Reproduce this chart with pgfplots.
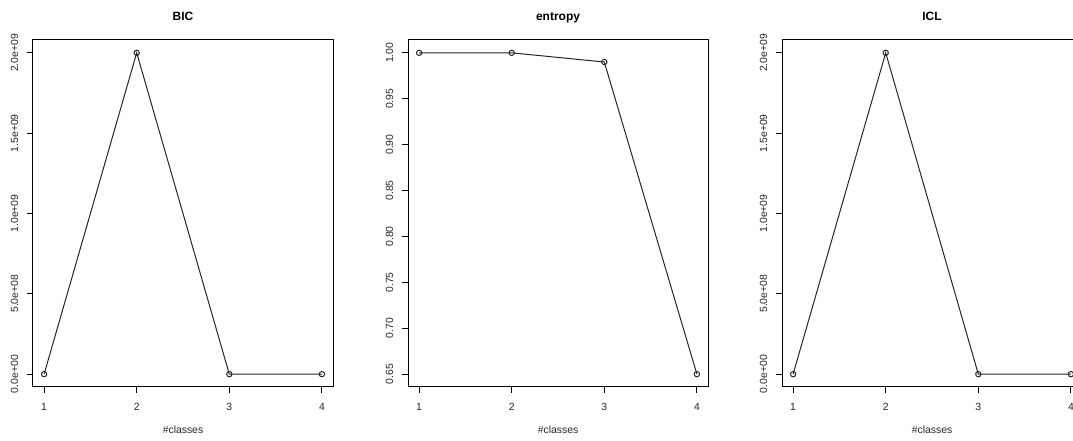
\documentclass[border=0pt]{standalone}
\usepackage{fontspec}
\setmainfont{Liberation Sans}
\usepackage{pgfplots}
\pgfplotsset{compat=1.18}
\pgfplotsset{
  rpanel/.style={
    scale only axis, width=225pt, height=260.25pt,
    anchor=south west,
    axis line style={black, line width=0.75pt},
    tick style={black, line width=0.75pt},
    tick align=outside, major tick length=4.5pt,
    xtick pos=left, ytick pos=left,
    xmin=0.88, xmax=4.12,
    scaled y ticks=false, scaled x ticks=false,
    xtick={1,2,3,4}, xticklabels={1,2,3,4},
    ticklabel style={font=\fontsize{7.8}{8}\selectfont, text=black!85},
    xticklabel style={yshift=-4pt},
    yticklabel style={rotate=90, anchor=south, yshift=3pt},
    title style={at={(0.5,1)}, anchor=base, yshift=8.25pt, font=\bfseries\fontsize{9}{10}\selectfont},
    xlabel style={at={(0.5,0)}, anchor=center, yshift=-32pt, font=\fontsize{7.8}{8}\selectfont, text=black!85},
    xlabel={\#classes},
    clip=false,
  },
  rline/.style={black!85, line width=0.75pt, mark=o, mark size=2pt, mark options={line width=0.75pt}},
}
\begin{document}
\begin{tikzpicture}
\path[use as bounding box] (0,0) rectangle (804.75pt,330.75pt);
\begin{axis}[rpanel, at={(24.75pt,40.5pt)}, title={BIC},
  ymin=-0.08e9, ymax=2.08e9,
  ytick={0,5e8,1e9,1.5e9,2e9},
  yticklabels={0.0e+00,5.0e+08,1.0e+09,1.5e+09,2.0e+09}]
\addplot[rline] coordinates {(1,0) (2,2e9) (3,0) (4,0)};
\end{axis}
\begin{axis}[rpanel, at={(306pt,40.5pt)}, title={entropy},
  ymin=0.636, ymax=1.014,
  ytick={0.65,0.70,0.75,0.80,0.85,0.90,0.95,1.00},
  yticklabels={0.65,0.70,0.75,0.80,0.85,0.90,0.95,1.00}]
\addplot[rline] coordinates {(1,1.00) (2,1.00) (3,0.99) (4,0.65)};
\end{axis}
\begin{axis}[rpanel, at={(586.5pt,40.5pt)}, title={ICL},
  ymin=-0.08e9, ymax=2.08e9,
  ytick={0,5e8,1e9,1.5e9,2e9},
  yticklabels={0.0e+00,5.0e+08,1.0e+09,1.5e+09,2.0e+09}]
\addplot[rline] coordinates {(1,0) (2,2e9) (3,0) (4,0)};
\end{axis}
\end{tikzpicture}
\end{document}
